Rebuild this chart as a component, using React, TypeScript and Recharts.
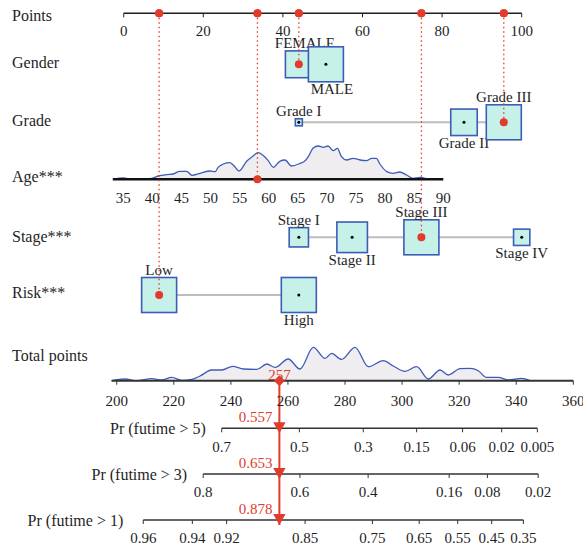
import React from 'react';
import { ComposedChart, XAxis, YAxis, ZAxis, Scatter, Area, ReferenceLine } from 'recharts';

const W = 583;
const H = 550;
const FONT = '"Liberation Serif", "Times New Roman", serif';
const INK = '#1f1f1f';
const RED = '#e23b2c';
const BLUE = '#3d5cb8';
const BOX_FILL = '#c6f1e9';
const GREY = '#bdbdbd';
const DENS_FILL = '#efedef';

// axis ticks
const pointTicks = [0, 20, 40, 60, 80, 100];
const ageTicks = [35, 40, 45, 50, 55, 60, 65, 70, 75, 80, 85, 90];
const totalTicks = [200, 220, 240, 260, 280, 300, 320, 340, 360];

const rowNames = ['Points', 'Gender', 'Grade', 'Age***', 'Stage***', 'Risk***', 'Total points'];

// factor levels: points on the 0-100 scale, share of patients (box size)
const genderLevels = ['FEMALE', 'MALE'];
const genderPoints = [44.0, 50.8];
const genderShare = [0.37, 0.63];

const gradeLevels = ['Grade I', 'Grade II', 'Grade III'];
const gradePoints = [44.0, 85.5, 95.5];
const gradeShare = [0.025, 0.355, 0.62];

const stageLevels = ['Stage I', 'Stage II', 'Stage III', 'Stage IV'];
const stagePoints = [44.0, 57.4, 74.8, 100];
const stageShare = [0.133, 0.334, 0.438, 0.095];

const riskLevels = ['Low', 'High'];
const riskPoints = [8.9, 44.0];
const riskShare = [0.5, 0.5];

// age distribution (years -> density)
const ageGrid = [33.3, 35, 36.5, 39.9, 41.0, 42.5, 43.6, 44.7, 45.9, 46.8, 48.2, 49.9, 50.8, 51.3, 52.2, 53.3, 53.9, 54.9, 56.2, 57.3, 58.2, 59.0, 59.9, 60.8, 61.9, 62.8, 63.9, 65.4, 66.2, 66.8, 67.6, 68.5, 69.4, 70.2, 71.1, 71.8, 72.5, 73.4, 74.5, 75.7, 76.8, 77.7, 78.5, 79.1, 80.3, 81.4, 82.5, 83.7, 84.8, 86.0, 87.4];
const ageDensity = [0, 1.3, 0, 1, 3.3, 4.7, 5.3, 8, 8, 4, 6, 8.3, 7.7, 12, 15.3, 16.7, 14.3, 8.3, 18, 23.3, 26.7, 24, 18.7, 12, 18, 19.3, 13.3, 16, 18.3, 22.7, 31, 33.3, 32, 33.3, 28.7, 31, 22.7, 19.3, 21, 19.3, 18.7, 21, 21, 15.3, 7.7, 6, 7.3, 4.3, 1, 2, 0];

// total points distribution
const totalGrid = [198.2, 202.9, 207.0, 212.3, 215.8, 219.3, 222.8, 226.3, 229.2, 233.3, 236.8, 240.6, 244.4, 249.1, 252.6, 255.5, 260.1, 264.2, 268.9, 273.0, 275.3, 278.8, 283.5, 288.2, 293.4, 296.9, 301.0, 305.1, 309.2, 313.3, 316.2, 320.3, 323.8, 326.7, 329.6, 333.7, 337.2, 341.9, 344.8];
const totalDensity = [0, 1.7, 0, 2, 0.7, 3.3, 0.3, 1.3, 4.7, 10.7, 10.7, 14.3, 11.7, 11.3, 16.7, 13.3, 21.7, 11.7, 33.3, 22.3, 27.3, 21.3, 33.3, 14, 20, 14.7, 9.3, 14, 1.7, 10.7, 5.7, 12, 12.3, 10, 3.3, 3.3, 0.7, 2.3, 0];

// survival scales: tick labels and where they sit on the total points scale
const pr5Labels = ['0.7', '0.5', '0.3', '0.15', '0.06', '0.02', '0.005'];
const pr5At = [236.8, 264.0, 286.4, 305.1, 321.2, 334.9, 347.4];
const pr3Labels = ['0.8', '0.6', '0.4', '0.16', '0.08', '0.02'];
const pr3At = [230.3, 264.2, 288.1, 316.5, 329.9, 347.7];
const pr1Labels = ['0.96', '0.94', '0.92', '0.85', '0.75', '0.65', '0.55', '0.45', '0.35'];
const pr1At = [209.3, 226.5, 238.5, 266.0, 289.6, 306.0, 319.5, 331.4, 342.5];

// the patient
const patientRows = ['risk', 'age', 'gender', 'stage', 'grade'];
const patientPoints = [8.9, 33.6, 44.0, 74.8, 95.5];
const patientTotal = 257;
const survivalTitles = ['Pr (futime > 5)', 'Pr (futime > 3)', 'Pr (futime > 1)'];
const survivalValues = ['0.557', '0.653', '0.878'];

// layout (pixels)
const rowY: Record<string, number> = { points: 13.3, gender: 64.3, grade: 122.3, age: 179.3, stage: 237.3, risk: 295, total: 380.7 };
const probY = [428.3, 474, 520];
const rowLabelY = [15, 62, 120, 176, 236, 292, 355];
const PTS_X = [123.7, 521.7];
const AGE_X = [112.8, 443.3];
const AGE_DOMAIN = [33.2, 90];
const TOT_X = [111.6, 573.3];
const TOT_DOMAIN = [198.2, 360];
const AXIS_H = 30;
const totalPx = (t: number) =>
  TOT_X[0] + ((t - TOT_DOMAIN[0]) * (TOT_X[1] - TOT_X[0])) / (TOT_DOMAIN[1] - TOT_DOMAIN[0]);

const layer: React.CSSProperties = { position: 'absolute', left: 0, top: 0 };
const tickStyle = { fontFamily: FONT, fontSize: 15, fill: INK };

const factors = [
  { key: 'gender', levels: genderLevels, pts: genderPoints, share: genderShare, dx: 6 },
  { key: 'grade', levels: gradeLevels, pts: gradePoints, share: gradeShare, dx: 0 },
  { key: 'stage', levels: stageLevels, pts: stagePoints, share: stageShare, dx: 0 },
  { key: 'risk', levels: riskLevels, pts: riskPoints, share: riskShare, dx: 0 },
];

const Box = (p: any) => {
  const { cx, cy, width, payload } = p;
  const s = width;
  const ty = payload.above ? cy - s / 2 - 2.5 : cy + s / 2 + 12.5;
  return (
    <g>
      <rect x={cx - s / 2} y={cy - s / 2} width={s} height={s} fill={BOX_FILL} stroke={BLUE} strokeWidth={1.6} />
      <circle cx={cx} cy={cy} r={1.5} fill="#000" />
      <text x={cx + payload.dx} y={ty} textAnchor="middle" fontFamily={FONT} fontSize={15} fill={INK}>
        {payload.label}
      </text>
    </g>
  );
};

const RedDot = (p: any) => <circle cx={p.cx} cy={p.cy} r={4} fill={RED} />;

const Diamond = (p: any) => (
  <g>
    <polygon
      points={`${p.cx},${p.cy - 5.5} ${p.cx + 5.5},${p.cy} ${p.cx},${p.cy + 5.5} ${p.cx - 5.5},${p.cy}`}
      fill={RED}
    />
    <text x={p.cx} y={p.cy - 1} textAnchor="middle" fontFamily={FONT} fontSize={15} fill={RED}>
      {p.payload.label}
    </text>
  </g>
);

const Arrow = (p: any) => (
  <g>
    <polygon
      points={`${p.cx - 6.2},${p.cy - 6} ${p.cx + 6.2},${p.cy - 6} ${p.cx},${p.cy + 5}`}
      fill={RED}
    />
    <text x={p.cx - 7} y={p.cy - 6} textAnchor="end" fontFamily={FONT} fontSize={15} fill={RED}>
      {p.payload.label}
    </text>
  </g>
);

const RowTick = (p: any) => {
  const i = rowLabelY.indexOf(p.payload.value);
  return (
    <text x={p.x} y={p.y} textAnchor="start" dominantBaseline="central" fontFamily={FONT} fontSize={16} fill={INK}>
      {rowNames[i]}
    </text>
  );
};

function ProbLayer({ idx, at, labels, gap }: { idx: number; at: number[]; labels: string[]; gap: number }) {
  const y0 = probY[idx];
  const left = totalPx(at[0]);
  const right = totalPx(at[at.length - 1]);
  const TitleTick = (p: any) => (
    <text x={p.x} y={p.y} textAnchor="end" dominantBaseline="central" fontFamily={FONT} fontSize={16} fill={INK}>
      {survivalTitles[idx]}
    </text>
  );
  return (
    <div style={layer}>
      <ComposedChart width={W} height={H} margin={{ top: y0 - 20, bottom: H - y0 - AXIS_H, left: 0, right: W - right }}>
        <XAxis
          type="number"
          dataKey="x"
          domain={[at[0], at[at.length - 1]]}
          ticks={at}
          interval={0}
          height={AXIS_H}
          tickFormatter={(v: number) => labels[at.indexOf(v)]}
          tickSize={4}
          tickMargin={8.6}
          axisLine={{ stroke: '#333', strokeWidth: 1.5 }}
          tickLine={{ stroke: '#333' }}
          tick={tickStyle}
        />
        <YAxis
          type="number"
          dataKey="y"
          domain={[0, 20]}
          width={left}
          ticks={[0]}
          interval={0}
          axisLine={false}
          tickLine={false}
          tickSize={0}
          tickMargin={gap}
          tick={<TitleTick />}
        />
        <Scatter
          data={[{ x: patientTotal, y: 0, label: survivalValues[idx] }]}
          shape={<Arrow />}
          isAnimationActive={false}
        />
      </ComposedChart>
    </div>
  );
}

export default function App() {
  const ageCurve = ageGrid.map((x, i) => ({ x, y: ageDensity[i] }));
  const totalCurve = totalGrid.map((x, i) => ({ x, y: totalDensity[i] }));
  const patientOnAxis = patientPoints.map((x) => ({ x, y: 0 }));

  return (
    <div style={{ position: 'fixed', left: 0, top: 0, width: W, height: H, background: '#fff', fontFamily: FONT }}>
      {/* Points axis */}
      <div style={layer}>
        <ComposedChart
          width={W}
          height={H}
          margin={{ top: 0, bottom: H - rowY.points - AXIS_H, left: PTS_X[0], right: W - PTS_X[1] }}
        >
          <XAxis
            type="number"
            dataKey="x"
            domain={[0, 100]}
            ticks={pointTicks}
            interval={0}
            height={AXIS_H}
            tickSize={4}
            tickMargin={8.5}
            axisLine={{ stroke: INK, strokeWidth: 1.5 }}
            tickLine={{ stroke: INK }}
            tick={tickStyle}
          />
          <YAxis hide type="number" dataKey="y" domain={[0, 1]} />
          <Scatter data={patientOnAxis} shape={<RedDot />} isAnimationActive={false} />
        </ComposedChart>
      </div>

      {/* Age axis and distribution */}
      <div style={layer}>
        <ComposedChart
          width={W}
          height={H}
          data={ageCurve}
          margin={{ top: rowY.age - 40, bottom: H - rowY.age - AXIS_H, left: AGE_X[0], right: W - AGE_X[1] }}
        >
          <XAxis
            type="number"
            dataKey="x"
            domain={AGE_DOMAIN}
            ticks={ageTicks}
            interval={0}
            height={AXIS_H}
            tickLine={false}
            tickSize={4}
            tickMargin={9.3}
            axisLine={{ stroke: '#111', strokeWidth: 2.5 }}
            tick={tickStyle}
          />
          <YAxis hide type="number" dataKey="y" domain={[0, 40]} />
          <Area
            type="monotone"
            dataKey="y"
            fill={DENS_FILL}
            fillOpacity={1}
            stroke={BLUE}
            strokeWidth={1.3}
            isAnimationActive={false}
          />
        </ComposedChart>
      </div>

      {/* Total points axis and distribution */}
      <div style={layer}>
        <ComposedChart
          width={W}
          height={H}
          data={totalCurve}
          margin={{ top: rowY.total - 40, bottom: H - rowY.total - AXIS_H, left: TOT_X[0], right: W - TOT_X[1] }}
        >
          <XAxis
            type="number"
            dataKey="x"
            domain={TOT_DOMAIN}
            ticks={totalTicks}
            interval={0}
            height={AXIS_H}
            tickSize={4}
            tickMargin={10.5}
            axisLine={{ stroke: '#333', strokeWidth: 2 }}
            tickLine={{ stroke: '#333' }}
            tick={tickStyle}
          />
          <YAxis hide type="number" dataKey="y" domain={[0, 40]} />
          <Area
            type="monotone"
            dataKey="y"
            fill={DENS_FILL}
            fillOpacity={1}
            stroke={BLUE}
            strokeWidth={1.3}
            isAnimationActive={false}
          />
          <ReferenceLine
            segment={[
              { x: patientTotal, y: 0 },
              { x: patientTotal, y: rowY.total - probY[2] - 5 },
            ]}
            ifOverflow="visible"
            stroke={RED}
            strokeWidth={2}
          />
          <Scatter data={[{ x: patientTotal, y: 0, label: String(patientTotal) }]} shape={<Diamond />} isAnimationActive={false} />
        </ComposedChart>
      </div>

      <ProbLayer idx={0} at={pr5At} labels={pr5Labels} gap={16} />
      <ProbLayer idx={1} at={pr3At} labels={pr3Labels} gap={16} />
      <ProbLayer idx={2} at={pr1At} labels={pr1Labels} gap={20} />

      {/* factor rows, row labels and the patient's points */}
      <div style={layer}>
        <ComposedChart width={W} height={H} margin={{ top: 0, bottom: 0, left: 12, right: W - PTS_X[1] }}>
          <XAxis hide type="number" dataKey="x" domain={[0, 100]} />
          <YAxis
            type="number"
            dataKey="y"
            domain={[0, H]}
            reversed
            width={PTS_X[0] - 12}
            ticks={rowLabelY}
            interval={0}
            axisLine={false}
            tickLine={false}
            tickSize={0}
            tickMargin={PTS_X[0] - 12}
            tick={<RowTick />}
          />
          {factors.map((f) => (
            <ZAxis key={f.key} zAxisId={f.key} type="number" dataKey="z" domain={[0, 'dataMax']} range={[0, 962]} />
          ))}
          {factors.map((f) => (
            <Scatter
              key={f.key}
              zAxisId={f.key}
              data={f.levels.map((label, i) => ({
                x: f.pts[i],
                y: rowY[f.key],
                z: f.share[i],
                label,
                above: i % 2 === 0,
                dx: f.dx,
              }))}
              line={{ stroke: GREY, strokeWidth: 2 }}
              shape={<Box />}
              isAnimationActive={false}
            />
          ))}
          {patientRows.map((row, i) => (
            <Scatter
              key={row}
              data={[
                { x: patientPoints[i], y: rowY.points },
                { x: patientPoints[i], y: rowY[row] },
              ]}
              line={{ stroke: RED, strokeWidth: 1.3, strokeDasharray: '1.5 3' }}
              shape={<RedDot />}
              isAnimationActive={false}
            />
          ))}
        </ComposedChart>
      </div>
    </div>
  );
}
